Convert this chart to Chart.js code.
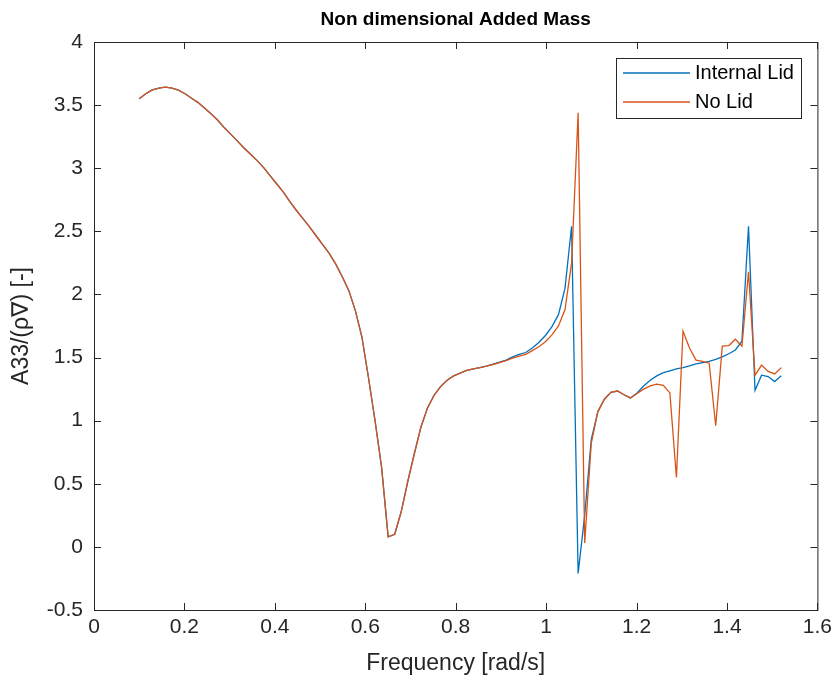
<!DOCTYPE html>
<html>
<head>
<meta charset="utf-8">
<script src="https://cdn.jsdelivr.net/npm/chart.js@4/dist/chart.umd.min.js"></script>
<style>
body { margin:0; background:#fff; }
#wrap { position:relative; width:837px; height:682px; }
</style>
</head>
<body>
<div id="wrap"><canvas id="c" width="837" height="682"></canvas></div>
<script>
// frequency grid [rad/s]
const freq = [
	0.1000, 0.1145, 0.1290, 0.1435, 0.1580, 0.1724, 0.1869, 0.2014, 0.2159, 0.2304,
	0.2449, 0.2594, 0.2739, 0.2884, 0.3029, 0.3173, 0.3318, 0.3463, 0.3608, 0.3753,
	0.3898, 0.4043, 0.4188, 0.4333, 0.4478, 0.4622, 0.4767, 0.4912, 0.5057, 0.5202,
	0.5347, 0.5492, 0.5637, 0.5782, 0.5927, 0.6071, 0.6216, 0.6361, 0.6506, 0.6651,
	0.6796, 0.6941, 0.7086, 0.7231, 0.7376, 0.7520, 0.7665, 0.7810, 0.7955, 0.8100,
	0.8245, 0.8390, 0.8535, 0.8680, 0.8824, 0.8969, 0.9114, 0.9259, 0.9404, 0.9549,
	0.9694, 0.9839, 0.9984, 1.0129, 1.0273, 1.0418, 1.0563, 1.0708, 1.0853, 1.0998,
	1.1143, 1.1288, 1.1433, 1.1578, 1.1722, 1.1867, 1.2012, 1.2157, 1.2302, 1.2447,
	1.2592, 1.2737, 1.2882, 1.3027, 1.3171, 1.3316, 1.3461, 1.3606, 1.3751, 1.3896,
	1.4041, 1.4186, 1.4331, 1.4476, 1.4620, 1.4765, 1.4910, 1.5055, 1.5200,
]

const internalLid = [
	3.55, 3.59, 3.62, 3.635, 3.643, 3.635, 3.618, 3.59, 3.555, 3.52,
	3.475, 3.43, 3.38, 3.32, 3.268, 3.215, 3.16, 3.11, 3.06, 3.005,
	2.94, 2.875, 2.81, 2.735, 2.665, 2.6, 2.535, 2.465, 2.395, 2.325,
	2.24, 2.14, 2.03, 1.87, 1.66, 1.34, 1.0, 0.63, 0.08, 0.1,
	0.28, 0.52, 0.74, 0.95, 1.1, 1.2, 1.27, 1.32, 1.355, 1.376,
	1.398, 1.41, 1.42, 1.433, 1.447, 1.463, 1.48, 1.505, 1.525, 1.54,
	1.575, 1.62, 1.675, 1.745, 1.84, 2.05, 2.54, -0.21, 0.25, 0.85,
	1.07, 1.17, 1.225, 1.235, 1.205, 1.18, 1.22, 1.275, 1.32, 1.355,
	1.38, 1.395, 1.41, 1.42, 1.435, 1.45, 1.46, 1.47, 1.485, 1.505,
	1.53, 1.56, 1.63, 2.54, 1.24, 1.36, 1.35, 1.31, 1.355,
]

const noLid = [
	3.55, 3.59, 3.62, 3.635, 3.643, 3.635, 3.618, 3.59, 3.555, 3.52,
	3.475, 3.43, 3.38, 3.32, 3.268, 3.215, 3.16, 3.11, 3.06, 3.005,
	2.94, 2.875, 2.81, 2.735, 2.665, 2.6, 2.535, 2.465, 2.395, 2.325,
	2.24, 2.14, 2.03, 1.87, 1.66, 1.34, 1.0, 0.63, 0.08, 0.1,
	0.28, 0.52, 0.74, 0.95, 1.1, 1.2, 1.27, 1.32, 1.355, 1.376,
	1.398, 1.41, 1.42, 1.433, 1.445, 1.46, 1.475, 1.495, 1.512, 1.525,
	1.555, 1.585, 1.625, 1.68, 1.75, 1.88, 2.25, 3.44, 0.03, 0.82,
	1.07, 1.17, 1.225, 1.235, 1.205, 1.18, 1.215, 1.25, 1.275, 1.29,
	1.28, 1.22, 0.55, 1.71, 1.575, 1.48, 1.47, 1.455, 0.96, 1.59,
	1.595, 1.645, 1.59, 2.18, 1.36, 1.44, 1.39, 1.37, 1.42,
]

const xTicks = [0, 0.2, 0.4, 0.6, 0.8, 1, 1.2, 1.4, 1.6]
const yTicks = [-0.5, 0, 0.5, 1, 1.5, 2, 2.5, 3, 3.5, 4]

const seriesNames = ['Internal Lid', 'No Lid']
const warna = ['#0072BD', '#D95319']

Chart.defaults.font.family = '"Liberation Sans", Arial, Helvetica, "DejaVu Sans", sans-serif'
Chart.defaults.color = '#262626'

const pts = ys => ys.map((v, i) => ({x: freq[i], y: v}))

// matlab style box: frame, inward ticks, legend in the corner
const kotak = {
	id: 'kotak',
	afterDraw: c => {
		const {ctx, chartArea: a, scales: {x, y}} = c
		ctx.save()
		ctx.strokeStyle = '#262626'
		ctx.lineWidth = 1
		ctx.strokeRect(a.left + .5, a.top + .5, a.right - a.left, a.bottom - a.top)
		ctx.beginPath()
		xTicks.forEach(v => {
			const p = Math.round(x.getPixelForValue(v)) + .5
			ctx.moveTo(p, a.bottom); ctx.lineTo(p, a.bottom - 7)
			ctx.moveTo(p, a.top); ctx.lineTo(p, a.top + 7)
		})
		yTicks.forEach(v => {
			const p = Math.round(y.getPixelForValue(v)) + .5
			ctx.moveTo(a.left, p); ctx.lineTo(a.left + 7, p)
			ctx.moveTo(a.right, p); ctx.lineTo(a.right - 7, p)
		})
		ctx.stroke()

		// legend
		const lx = 616, ly = 58, lw = 185, lh = 60
		ctx.fillStyle = '#fff'
		ctx.fillRect(lx, ly, lw, lh)
		ctx.strokeStyle = '#262626'
		ctx.strokeRect(lx + .5, ly + .5, lw, lh)
		ctx.font = '20px ' + Chart.defaults.font.family
		ctx.textBaseline = 'middle'
		seriesNames.forEach((n, i) => {
			const yy = ly + 15 + i * 29
			ctx.strokeStyle = warna[i]
			ctx.lineWidth = 1.3
			ctx.beginPath(); ctx.moveTo(lx + 7, yy); ctx.lineTo(lx + 74, yy); ctx.stroke()
			ctx.fillStyle = '#000'
			ctx.fillText(n, lx + 79, yy)
		})
		ctx.restore()
	}
}

new Chart(document.getElementById('c'), {
	type: 'line',
	data: {
		datasets: [{
			label: seriesNames[0],
			data: pts(internalLid),
			borderColor: warna[0],
			backgroundColor: warna[0],
			borderWidth: 1.3,
			pointRadius: 0,
			tension: 0,
			order: 2,
		}, {
			label: seriesNames[1],
			data: pts(noLid),
			borderColor: warna[1],
			backgroundColor: warna[1],
			borderWidth: 1.3,
			pointRadius: 0,
			tension: 0,
			order: 1,
		}]
	},
	options: {
		responsive: false,
		animation: false,
		layout: { padding: { top: 0, right: 19, bottom: 0, left: 0 } },
		plugins: {
			legend: { display: false },
			tooltip: { enabled: false },
			title: {
				display: true,
				text: 'Non dimensional Added Mass',
				fullSize: false,
				color: '#000',
				font: { size: 19, weight: 'bold' },
				padding: { top: 8.5, bottom: 10.7 },
			},
		},
		scales: {
			x: {
				type: 'linear',
				min: 0, max: 1.6,
				afterBuildTicks: s => { s.ticks = xTicks.map(v => ({value: v})) },
				afterFit: s => { s.height = 72 },
				grid: { display: false, drawTicks: false },
				border: { display: false },
				ticks: { font: { size: 21 }, padding: 5, maxRotation: 0, autoSkip: false, callback: v => String(v) },
				title: { display: true, text: 'Frequency [rad/s]', font: { size: 23 }, padding: { top: 0, bottom: 5 } },
			},
			y: {
				type: 'linear',
				min: -0.5, max: 4,
				afterBuildTicks: s => { s.ticks = yTicks.map(v => ({value: v})) },
				afterFit: s => { s.width = 94 },
				grid: { display: false, drawTicks: false },
				border: { display: false },
				ticks: { font: { size: 21 }, padding: 11, autoSkip: false, callback: v => String(v) },
				title: { display: true, text: 'A33/(ρ∇) [-]', font: { size: 23 }, padding: { top: 8, bottom: 0 } },
			},
		},
	},
	plugins: [kotak],
})
</script>
</body>
</html>
